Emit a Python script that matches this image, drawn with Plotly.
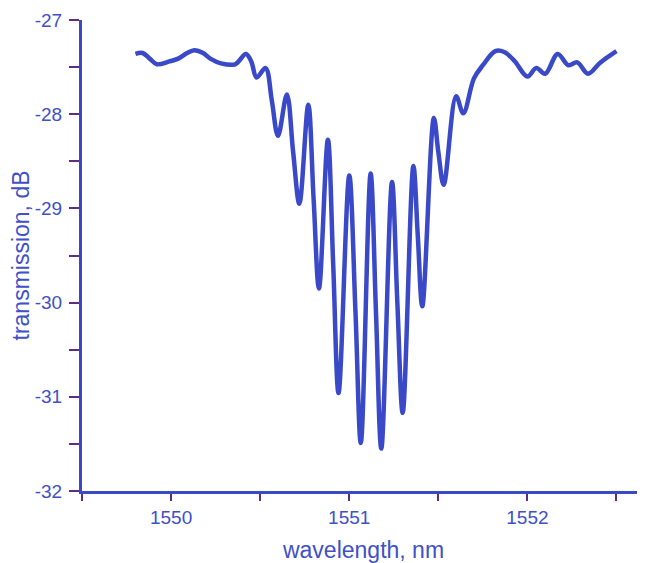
import plotly.graph_objects as go

wavelength_nm = [
    1549.80, 1549.84, 1549.88, 1549.92, 1549.99, 1550.04, 1550.09, 1550.13,
    1550.18, 1550.22, 1550.28, 1550.36, 1550.42, 1550.45, 1550.48, 1550.53,
    1550.565, 1550.60, 1550.65, 1550.685, 1550.72, 1550.77, 1550.80, 1550.83,
    1550.88, 1550.91, 1550.94, 1551.00, 1551.035, 1551.065, 1551.12, 1551.15,
    1551.18, 1551.24, 1551.27, 1551.30, 1551.36, 1551.385, 1551.41, 1551.475,
    1551.50, 1551.53, 1551.60, 1551.64, 1551.70, 1551.75, 1551.82, 1551.87,
    1551.93, 1552.00, 1552.05, 1552.10, 1552.17, 1552.23, 1552.28, 1552.34,
    1552.41, 1552.50,
]
transmission_db = [
    -27.36, -27.35, -27.41, -27.47, -27.44, -27.41, -27.35, -27.32,
    -27.35, -27.41, -27.46, -27.47, -27.36, -27.44, -27.61, -27.51,
    -27.85, -28.23, -27.79, -28.40, -28.95, -27.90, -28.90, -29.85,
    -28.27, -29.60, -30.96, -28.65, -30.10, -31.49, -28.63, -30.10,
    -31.55, -28.72, -30.00, -31.17, -28.55, -29.30, -30.04, -28.04,
    -28.40, -28.75, -27.81, -27.99, -27.62, -27.48, -27.33, -27.34,
    -27.44, -27.60, -27.51, -27.57, -27.36, -27.48, -27.45, -27.57,
    -27.45, -27.33,
]
x_ticks = [1550, 1551, 1552]
y_ticks = [-27, -28, -29, -30, -31, -32]

LINE = "#3a49c8"
TEXT = "#4050c8"
TICK = "#5c2d82"
FONT = "Liberation Sans, Arial, sans-serif"

fig = go.Figure()
fig.add_trace(go.Scatter(
    x=wavelength_nm, y=transmission_db, mode="lines",
    line=dict(color=LINE, width=4.5, shape="spline", smoothing=1.0),
    showlegend=False, hoverinfo="skip",
))

fig.update_layout(
    width=637, height=555,
    margin=dict(l=74, r=0, t=12, b=72),
    paper_bgcolor="white", plot_bgcolor="white",
    font=dict(family=FONT, color=TEXT, size=19),
    xaxis=dict(
        range=[1549.5, 1552.66], tickvals=x_ticks, ticktext=[str(v) for v in x_ticks],
        automargin=False,
        showgrid=False, zeroline=False, showline=True, linecolor=LINE, linewidth=3,
        ticks="outside", ticklen=7, tickwidth=2, tickcolor=TICK,
        minor=dict(dtick=0.5, tick0=1549.5, ticks="outside", ticklen=7, tickwidth=2, tickcolor=TICK),
        tickfont=dict(size=19, color=TEXT), ticklabelstandoff=0,
        title=dict(text="wavelength, nm", font=dict(size=23, color=TEXT), standoff=18),
    ),
    yaxis=dict(
        range=[-32, -27], tickvals=y_ticks, ticktext=[str(v) for v in y_ticks],
        automargin=False,
        showgrid=False, zeroline=False, showline=True, linecolor=LINE, linewidth=3,
        ticks="outside", ticklen=10, tickwidth=2, tickcolor=TICK,
        minor=dict(dtick=0.5, tick0=-32, ticks="outside", ticklen=10, tickwidth=2, tickcolor=TICK),
        tickfont=dict(size=19, color=TEXT), ticklabelstandoff=3,
        title=dict(text="transmission, dB", font=dict(size=23, color=TEXT), standoff=0),
    ),
)

fig.write_html("out.html")
